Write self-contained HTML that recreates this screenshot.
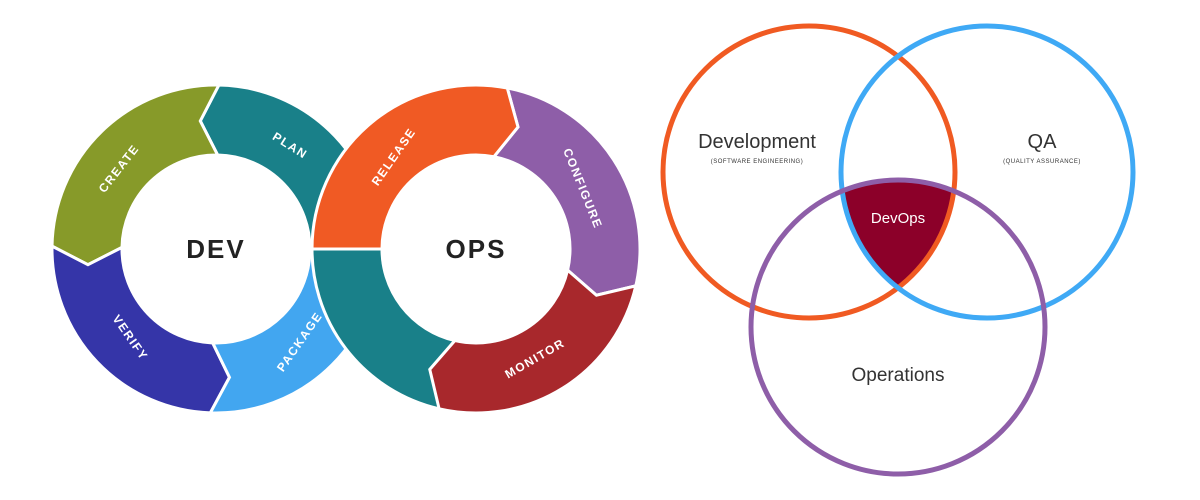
<!DOCTYPE html>
<html><head><meta charset="utf-8"><style>
html,body{margin:0;padding:0;background:#fff;width:1200px;height:500px;overflow:hidden}
svg text{font-family:"Liberation Sans",sans-serif}
</style></head><body>
<svg id="s" width="1200" height="500" viewBox="0 0 1200 500" xmlns="http://www.w3.org/2000/svg">
<defs>
<clipPath id="cA"><circle cx="809" cy="172" r="146"/></clipPath>
<clipPath id="cB" clip-path="url(#cA)"><circle cx="987" cy="172" r="146"/></clipPath>
</defs>
<g id="dev" transform="translate(216,249)"></g>
<g id="ops" transform="translate(476,249)"></g>
<g font-weight="bold" fill="#fff" font-size="12" letter-spacing="1.5" text-anchor="middle">
<text transform="translate(122,171) rotate(-52)">CREATE</text>
<text transform="translate(288,149) rotate(32)">PLAN</text>
<text transform="translate(127,340) rotate(55)">VERIFY</text>
<text transform="translate(303,344) rotate(-55)">PACKAGE</text>
<text transform="translate(397,159) rotate(-55)">RELEASE</text>
<text transform="translate(579,190) rotate(68)">CONFIGURE</text>
<text transform="translate(537,362) rotate(-30)">MONITOR</text>
</g>
<text x="216" y="258" font-size="26" font-weight="bold" fill="#222" text-anchor="middle" letter-spacing="2">DEV</text>
<text x="476" y="258" font-size="26" font-weight="bold" fill="#222" text-anchor="middle" letter-spacing="2">OPS</text>

<g clip-path="url(#cB)"><circle cx="898" cy="327" r="147" fill="#8c0029"/></g>
<circle cx="809" cy="172" r="146" fill="none" stroke="#f05a22" stroke-width="5"/>
<circle cx="987" cy="172" r="146" fill="none" stroke="#3fa9f5" stroke-width="5"/>
<circle cx="898" cy="327" r="147" fill="none" stroke="#8e5ea8" stroke-width="5"/>
<g fill="#333" text-anchor="middle">
<text x="757" y="148" font-size="20">Development</text>
<text x="757" y="163" font-size="6" letter-spacing="0.5">(SOFTWARE ENGINEERING)</text>
<text x="1042" y="148" font-size="20">QA</text>
<text x="1042" y="163" font-size="6" letter-spacing="0.5">(QUALITY ASSURANCE)</text>
<text x="898" y="381" font-size="19">Operations</text>
</g>
<text x="898" y="223" font-size="15" fill="#fff" text-anchor="middle">DevOps</text>
</svg>
<script>
var NS="http://www.w3.org/2000/svg",ri=94,ro=164,rm=129;
function P(r,a){a=a*Math.PI/180;return (r*Math.cos(a)).toFixed(2)+","+(r*Math.sin(a)).toFixed(2);}
function seg(g,a0,a1,col,lead,d0,d1){
 var d;
 if(lead===0){ d="M"+P(ro,a0)+" A"+ro+","+ro+" 0 0 1 "+P(ro,a1)+" L"+P(rm,a1-d1)+" L"+P(ri,a1)+" A"+ri+","+ri+" 0 0 0 "+P(ri,a0)+" L"+P(rm,a0-d0)+" Z";}
 else{ d="M"+P(ro,a0)+" L"+P(rm,a0+d0)+" L"+P(ri,a0)+" A"+ri+","+ri+" 0 0 1 "+P(ri,a1)+" L"+P(rm,a1+d1)+" L"+P(ro,a1)+" A"+ro+","+ro+" 0 0 0 "+P(ro,a0)+" Z";}
 var p=document.createElementNS(NS,"path");p.setAttribute("d",d);p.setAttribute("fill",col);
 p.setAttribute("stroke","#fff");p.setAttribute("stroke-width","3");p.setAttribute("stroke-linejoin","miter");
 document.getElementById(g).appendChild(p);
}
seg("dev",271,362,"#198089",0,8,0);
seg("ops",103,182,"#198089",1,0,0);
seg("dev",181,271,"#879a29",0,8,8);
seg("dev",92,181,"#3535a8",0,8,8);
seg("ops",281,373,"#8e5ea8",1,8,8);
seg("ops",13,103,"#a8282c",1,8,8);
seg("ops",180,281,"#f05a24",1,0,8);
seg("dev",-2,92,"#42a6f0",0,-7,8);
</script>
</body></html>
